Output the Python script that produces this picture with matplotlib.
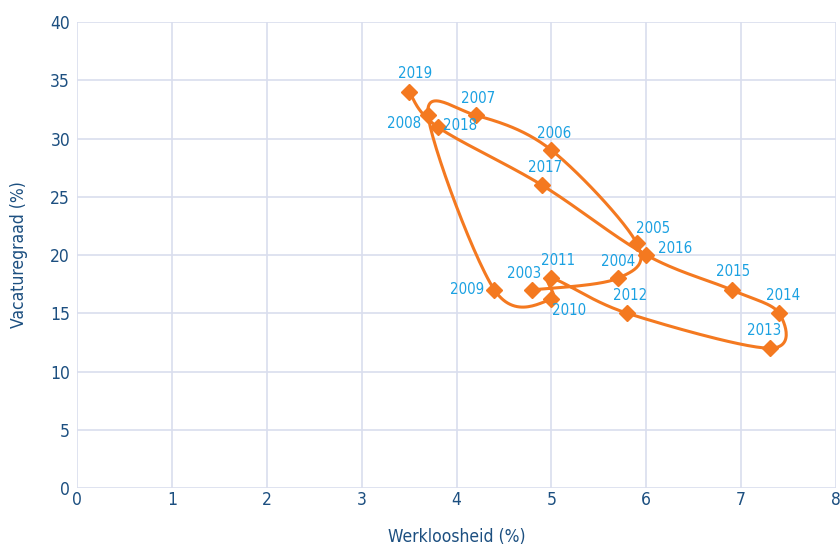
#!/usr/bin/env python3
import numpy as np
import matplotlib
matplotlib.use("Agg")
import matplotlib.pyplot as plt

YEARS = [2003, 2004, 2005, 2006, 2007, 2008, 2009, 2010, 2011,
         2012, 2013, 2014, 2015, 2016, 2017, 2018, 2019]
WERKLOOSHEID = [4.8, 5.7, 5.9, 5.0, 4.2, 3.7, 4.4, 5.0, 5.0,
                5.8, 7.3, 7.4, 6.9, 6.0, 4.9, 3.8, 3.5]
VACATUREGRAAD = [17, 18, 21, 29, 32, 32, 17, 16.2, 18,
                 15, 12, 15, 17, 20, 26, 31, 34]

# label offsets in points (dx, dy), relative to the marker
LABEL_OFFSETS = {
    2003: (-6, 12), 2004: (0, 12), 2005: (12, 11), 2006: (2, 12),
    2007: (2, 12), 2008: (-17, -6), 2009: (-20, 0), 2010: (13, -8),
    2011: (5, 13), 2012: (2, 13), 2013: (-4, 13), 2014: (3, 13),
    2015: (1, 13), 2016: (21, 5), 2017: (2, 13), 2018: (16, 1),
    2019: (4, 13),
}

ORANGE = "#f47920"
CYAN = "#1ba1e2"
NAVY = "#1c4f80"
GRID = "#d9deee"

plt.rcParams["font.family"] = ["DejaVu Sans"]
plt.rcParams["font.stretch"] = "condensed"


def catmull_rom(x, y, n=30):
    pts = np.column_stack([x, y])
    pts = np.vstack([pts[0], pts, pts[-1]])
    out = []
    for i in range(1, len(pts) - 2):
        p0, p1, p2, p3 = pts[i - 1], pts[i], pts[i + 1], pts[i + 2]
        t = np.linspace(0, 1, n)[:, None]
        seg = 0.5 * ((2 * p1) + (-p0 + p2) * t
                     + (2 * p0 - 5 * p1 + 4 * p2 - p3) * t ** 2
                     + (-p0 + 3 * p1 - 3 * p2 + p3) * t ** 3)
        out.append(seg)
    out = np.vstack(out)
    return out[:, 0], out[:, 1]


fig = plt.figure(figsize=(8.4, 5.46), dpi=100)
ax = fig.add_axes([0.0917, 0.1062, 0.9036, 0.8535])

sx, sy = catmull_rom(WERKLOOSHEID, VACATUREGRAAD)
ax.plot(sx, sy, color=ORANGE, lw=2.2, zorder=3, solid_capstyle="round")
ax.plot(WERKLOOSHEID, VACATUREGRAAD, ls="none", marker="D", ms=8.6,
        color=ORANGE, zorder=4, clip_on=False)

for yr, xv, yv in zip(YEARS, WERKLOOSHEID, VACATUREGRAAD):
    dx, dy = LABEL_OFFSETS[yr]
    ax.annotate(str(yr), (xv, yv), xytext=(dx, dy), textcoords="offset points",
                ha="center", va="center", color=CYAN, fontsize=10.8, zorder=5)

ax.set_xlim(0, 8)
ax.set_ylim(0, 40)
ax.set_xticks(range(0, 9))
ax.set_yticks(range(0, 41, 5))
ax.grid(True, color=GRID, lw=1.2)
ax.set_axisbelow(True)
for s in ax.spines.values():
    s.set_visible(False)
ax.tick_params(length=0, labelsize=12.5, colors=NAVY)
ax.tick_params(axis="x", pad=2)
ax.tick_params(axis="y", pad=5)

ax.set_xlabel("Werkloosheid (%)", fontsize=12.5, color=NAVY, labelpad=14)
ax.set_ylabel("Vacaturegraad (%)", fontsize=12.5, color=NAVY, labelpad=16)

fig.savefig("out.png", dpi=100)
